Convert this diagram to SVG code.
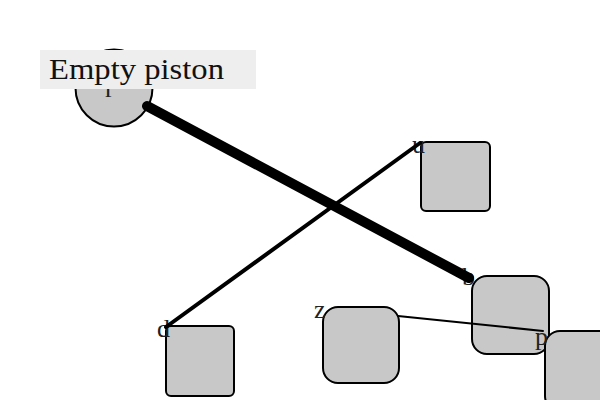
<svg xmlns="http://www.w3.org/2000/svg" width="600" height="400" viewBox="0 0 600 400">
  <style>
    .node { fill: #c8c8c8; stroke: #000; stroke-width: 2; }
    .lbl { font-family: "Liberation Serif", "DejaVu Serif", serif; font-size: 26px; fill: #222; }
    .edge { stroke: #000; fill: none; stroke-linecap: round; }
    .caption-bg { fill: #eeeeee; }
    .caption { font-family: "Liberation Serif", "DejaVu Serif", serif; font-size: 29px; fill: #111; }
  </style>
  <rect width="600" height="400" fill="#fff"/>

  <g id="node-r">
    <circle class="node" cx="114" cy="88" r="38.5"/>
    <text class="lbl" x="105" y="97">r</text>
  </g>
  <g id="node-u">
    <rect class="node" x="421" y="142" width="69" height="69" rx="5"/>
    <text class="lbl" x="412" y="153">u</text>
  </g>
  <g id="node-d">
    <rect class="node" x="166" y="326" width="68" height="70" rx="5"/>
    <text class="lbl" x="157" y="337">d</text>
  </g>
  <g id="node-z">
    <rect class="node" x="323" y="307" width="76" height="76" rx="15"/>
    <text class="lbl" x="314" y="318">z</text>
  </g>
  <g id="node-b">
    <rect class="node" x="472" y="276" width="77" height="78" rx="15"/>
    <text class="lbl" x="462" y="285">b</text>
  </g>
  <g id="node-p">
    <rect class="node" x="545" y="331" width="80" height="80" rx="15"/>
    <text class="lbl" x="535" y="345">p</text>
  </g>

  <g id="connectors">
    <line class="edge" x1="147" y1="106" x2="469" y2="278" stroke-width="10"/>
    <line class="edge" x1="420" y1="143" x2="166" y2="327" stroke-width="4"/>
    <line class="edge" x1="398" y1="316" x2="543" y2="331" stroke-width="2"/>
  </g>

  <g id="caption">
    <rect class="caption-bg" x="40" y="50" width="216" height="39"/>
    <text class="caption" x="49" y="79" textLength="175" lengthAdjust="spacingAndGlyphs">Empty piston</text>
  </g>
</svg>
